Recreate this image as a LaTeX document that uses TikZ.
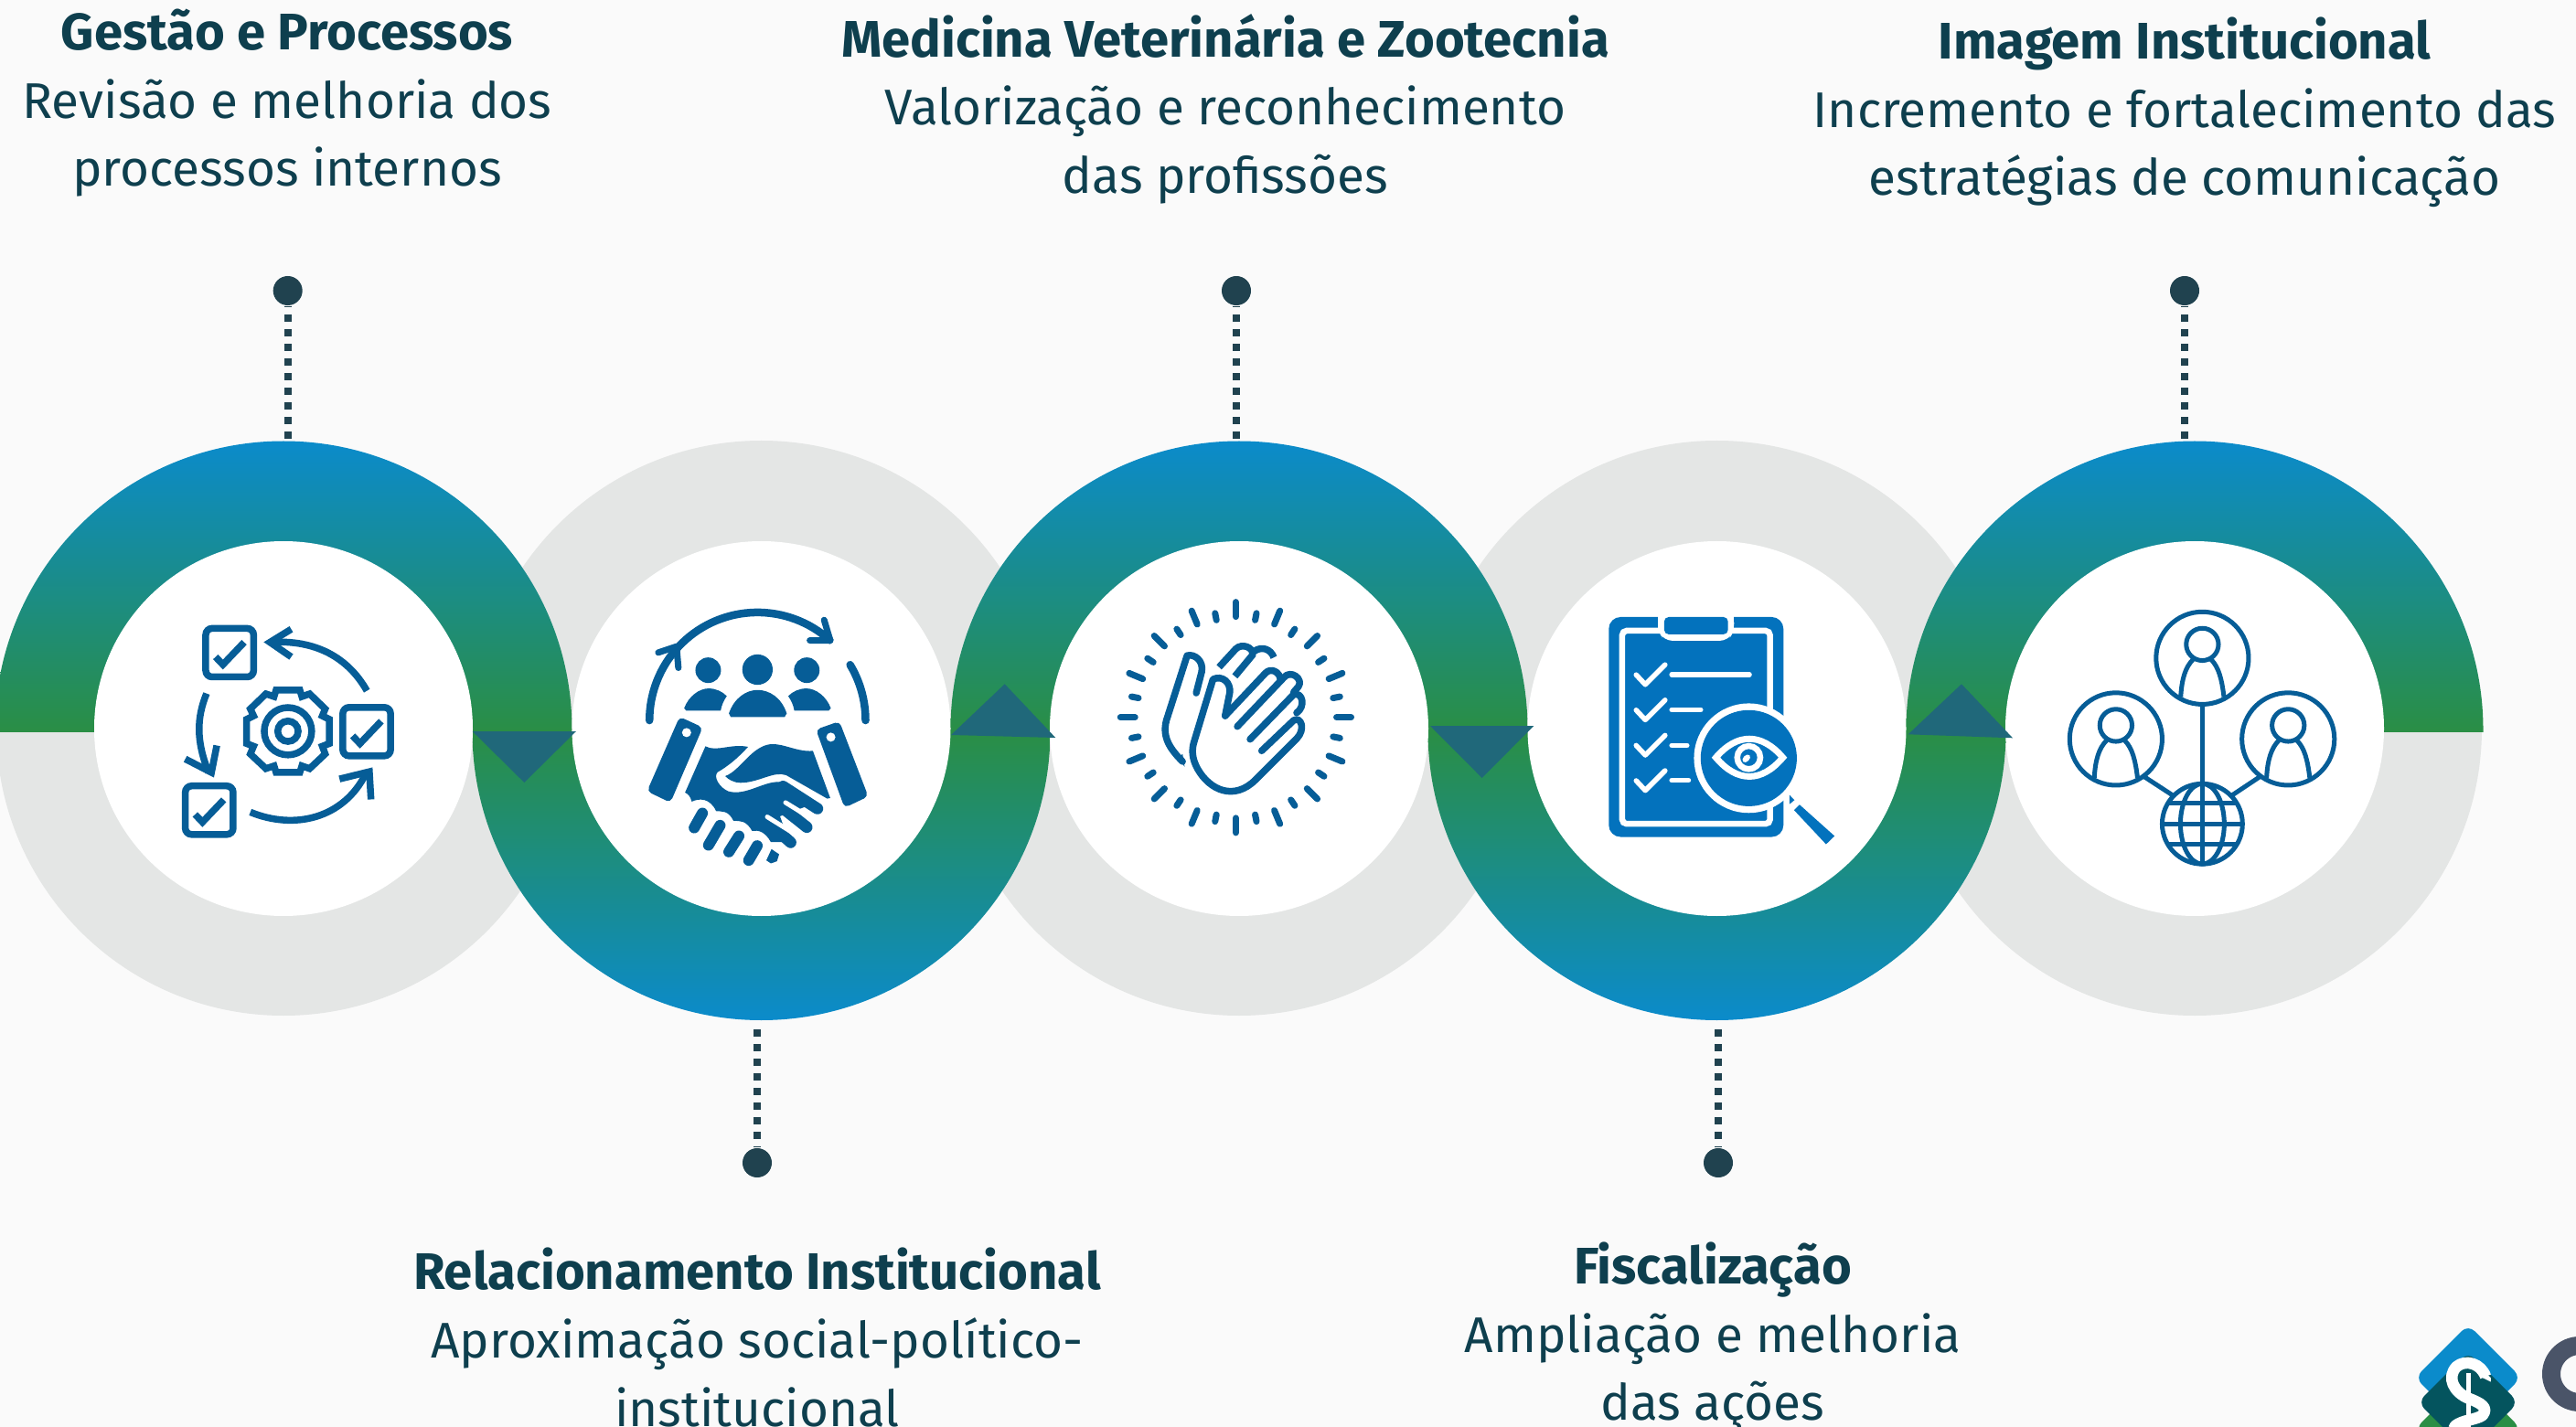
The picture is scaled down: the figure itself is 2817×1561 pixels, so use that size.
\documentclass[tikz,border=0pt]{standalone}
\usepackage{fontspec}
\setmainfont{Fira Sans}
\definecolor{bgc}{HTML}{FAFAFA}
\definecolor{rblue}{HTML}{0B8BCB}
\definecolor{rgreen}{HTML}{2A8E45}
\definecolor{rgray}{HTML}{E4E6E5}
\definecolor{tric}{HTML}{20687A}
\definecolor{dotc}{HTML}{20424F}
\definecolor{txtc}{HTML}{0E3F4E}
\definecolor{iconc}{HTML}{065D97}
\definecolor{clipc}{HTML}{0372BD}
\definecolor{ldark}{HTML}{04545E}
\definecolor{lgrey}{HTML}{4A5468}
\newcommand{\ttl}[1]{{\fontsize{16}{21.2}\selectfont\bfseries #1}}
\tikzset{
  label/.style={font=\fontsize{15.6}{21.2}\selectfont,text=txtc,align=center,inner sep=0pt},
  dotn/.style={circle,fill=dotc,minimum size=0.32cm,inner sep=0pt},
  dotline/.style={draw=dotc,line width=0.08cm,dash pattern=on 0.08cm off 0.08cm,dash phase=0.064cm},
  tri/.style={fill=tric},
  ic/.style={draw=iconc,line width=#1,line join=miter},
  icr/.style={draw=iconc,line width=#1,line cap=round,line join=round},
  wl/.style={draw=white,line width=#1,line cap=round,line join=round}
}
\begin{document}
\begin{tikzpicture}[x=0.01cm,y=-0.01cm]
\useasboundingbox (0,0) rectangle (2817,1561);
\clip (0,0) rectangle (2817,1561);
\fill[bgc] (0,0) rectangle (2817,1561);
% grey halves
\foreach \cx in {310,1355,2400}{
  \begin{scope}\clip (\cx,797) circle[radius=314];
  \fill[rgray] (\cx-320,799) rectangle (\cx+320,1115);\end{scope}}
\foreach \cx in {832.5,1877.5}{
  \begin{scope}\clip (\cx,797) circle[radius=315];
  \fill[rgray] (\cx-320,480) rectangle (\cx+320,801);\end{scope}}
% coloured halves
\foreach \cx in {310,1355,2400}{
  \begin{scope}\clip (\cx,798) circle[radius=315.5];
  \shade[top color=rblue,bottom color=rgreen] (\cx-320,482) rectangle (\cx+320,800);\end{scope}}
\foreach \cx in {832.5,1877.5}{
  \begin{scope}\clip (\cx,800) circle[radius=316];
  \shade[top color=rgreen,bottom color=rblue] (\cx-320,800) rectangle (\cx+320,1116);\end{scope}}
% white discs
\foreach \cx in {310,832.5,1355,1877.5,2400}
  \fill[white] (\cx,797) ellipse [x radius=207,y radius=205];
% triangles
\fill[tri] (516.7,800) -- (630,800) -- (573.3,856) -- cycle;
\fill[tri] (1040,804) -- (1154.3,807) -- (1098.7,748.3) -- cycle;
\fill[tri] (1564,794) -- (1677.3,794) -- (1620.7,851) -- cycle;
\fill[tri] (2086.7,803.3) -- (2201,807.3) -- (2145,748.3) -- cycle;
% connectors
\coordinate (r1) at (314.7,483);
\coordinate (r2) at (828,1122);
\coordinate (r3) at (1352,483);
\coordinate (r4) at (1879,1122);
\coordinate (r5) at (2389,483);
\node[dotn] (d1) at (314.7,318) {};
\node[dotn] (d2) at (828,1272) {};
\node[dotn] (d3) at (1352,318) {};
\node[dotn] (d4) at (1879,1272) {};
\node[dotn] (d5) at (2389,318) {};
\foreach \i in {1,...,5} \draw[dotline] (d\i) -- (r\i);
% texts
\node[label] (t1) at (314,113) {\ttl{Gestão e Processos}\\Revisão e melhoria dos\\processos internos};
\node[label] (t3) at (1340,119) {\ttl{Medicina Veterinária e Zootecnia}\\Valorização e reconhecimento\\das profissões};
\node[label] (t5) at (2389,123) {\ttl{Imagem Institucional}\\Incremento e fortalecimento das\\estratégias de comunicação};
\node[label] (t2) at (828,1463) {\ttl{Relacionamento Institucional}\\Aproximação social-político-\\institucional};
\node[label] (t4) at (1873,1463) {\ttl{Fiscalização}\\Ampliação e melhoria\\das ações};
% ICON 1
\begin{scope}[shift={(0,470)},x=0.004464cm,y=-0.004209cm]
\foreach \dx/\dy in {0/0,335/205,-50/409}{
  \begin{scope}[shift={(\dx,\dy)}]
  \draw[ic=0.075cm,rounded corners=0.07cm] (503,516) rectangle (620,642);
  \draw[ic=0.075cm] (527,590) -- (545,610) -- (597,552);
  \end{scope}}
\draw[ic=0.075cm] (897,678) .. controls (850,590) and (770,545) .. (662,552);
\draw[ic=0.075cm] (712,518) -- (660,552) -- (712,590);
\draw[ic=0.075cm] (505,685) .. controls (480,750) and (480,810) .. (510,890);
\draw[ic=0.075cm] (453,855) -- (517,890) -- (530,820);
\draw[ic=0.075cm] (612,993) .. controls (720,1040) and (840,1010) .. (895,892);
\draw[ic=0.075cm] (830,907) -- (903,888) -- (907,960);
\draw[ic=0.075cm] (675,676) -- (733,676) -- (738,693) -- (757,686) -- (795,725) -- (788,743) -- (805,752) -- (805,815) -- (788,822) -- (795,842) -- (757,880) -- (738,873) -- (733,890) -- (675,890) -- (670,873) -- (650,880) -- (612,842) -- (620,822) -- (603,815) -- (603,752) -- (620,743) -- (612,725) -- (650,686) -- (670,693) -- cycle;
\draw[ic=0.075cm] (704,783) ellipse [x radius=58,y radius=61.5];
\draw[ic=0.075cm] (704,783) ellipse [x radius=25,y radius=26.5];
\end{scope}
% ICON 2
\begin{scope}[shift={(640,620)},x=0.003333cm,y=-0.003333cm]
\draw[icr=0.085cm] plot[domain=180:48,samples=50] ({566+355*cos(\x)},{505-355*sin(\x)});
\draw[icr=0.085cm] plot[domain=31:0,samples=20] ({566+355*cos(\x)},{505-355*sin(\x)});
\draw[icr=0.07cm] (240,282) -- (300,262) -- (306,332);
\draw[icr=0.07cm] (785,175) -- (805,242) -- (738,242);
\fill[iconc] (404,340) circle[radius=42] (566,338) circle[radius=50] (728,340) circle[radius=42];
\fill[iconc] (472,482) .. controls (490,430) and (530,405) .. (566,405) .. controls (605,405) and (645,430) .. (662,482) -- (655,494) -- (478,494) -- cycle;
\fill[iconc] (325,465) .. controls (340,425) and (375,400) .. (405,400) .. controls (430,400) and (450,410) .. (465,425) .. controls (455,440) and (448,455) .. (445,473) -- (332,473) -- cycle;
\fill[iconc] (807,465) .. controls (792,425) and (757,400) .. (727,400) .. controls (702,400) and (682,410) .. (667,425) .. controls (677,440) and (684,455) .. (687,473) -- (800,473) -- cycle;
\fill[iconc,rounded corners=0.05cm] (310,493) -- (386,528) -- (280,775) -- (203,738) -- cycle;
\fill[iconc,rounded corners=0.05cm] (758,535) -- (835,508) -- (930,755) -- (852,792) -- cycle;
\fill[white] (333,545) circle[radius=15] (807,560) circle[radius=15];
% right hand top
\fill[iconc] (460,688) .. controls (510,670) and (545,590) .. (610,583) .. controls (650,580) and (700,610) .. (748,605) -- (805,760) -- (795,762) -- (660,685) .. controls (620,670) and (570,710) .. (510,710) .. controls (490,710) and (470,700) .. (460,688) -- cycle;
% left hand
\fill[iconc] (395,590) .. controls (430,610) and (480,580) .. (535,592) .. controls (500,630) and (470,655) .. (435,675) .. controls (420,690) and (440,725) .. (470,738) .. controls (530,755) and (590,700) .. (645,708) -- (760,775) -- (640,820) -- (670,905) -- (610,905) .. controls (590,870) and (570,865) .. (548,868) .. controls (530,835) and (510,835) .. (487,835) .. controls (470,800) and (450,805) .. (430,803) .. controls (410,760) and (375,760) .. (350,772) .. controls (345,755) and (340,748) .. (328,742) -- cycle;
\draw[icr=0.125cm] (650,722) -- (763,795);
\draw[icr=0.125cm] (620,770) -- (728,856);
\draw[icr=0.125cm] (590,830) -- (675,906);
\draw[wl=0.05cm] (658,775) -- (728,818);
\draw[wl=0.05cm] (598,822) -- (688,878);
\draw[icr=0.12cm] (385,810) -- (358,858);
\draw[icr=0.12cm] (443,850) -- (405,915);
\draw[icr=0.12cm] (505,885) -- (472,937);
\draw[icr=0.12cm] (565,917) -- (537,965);
\fill[iconc] (612,928) -- (637,945) -- (630,968) -- (610,975) -- (595,965) -- cycle;
\end{scope}
% ICON 3
\begin{scope}[shift={(1180,620)},x=0.003333cm,y=-0.003333cm]
\foreach \i in {0,...,31}{
  \pgfmathsetmacro\ang{\i*11.25}
  \ifodd\i
    \draw[icr=0.07cm] ({515+326*cos(\ang)},{495-326*sin(\ang)}) -- ({515+349*cos(\ang)},{495-349*sin(\ang)});
  \else
    \draw[icr=0.07cm] ({515+331*cos(\ang)},{495-331*sin(\ang)}) -- ({515+379*cos(\ang)},{495-379*sin(\ang)});
  \fi}
\draw[icr=0.075cm] (385,415) -- (403,345) .. controls (410,310) and (380,285) .. (355,292) -- (287,505) .. controls (272,560) and (300,600) .. (340,640);
\fill[iconc] (328,628) -- (347,658) -- (340,615) -- cycle;
\draw[icr=0.075cm] (480,490) -- (612,350) .. controls (630,330) and (660,345) .. (662,372);
\draw[icr=0.075cm] (520,525) -- (672,365) .. controls (695,335) and (740,370) .. (720,395) -- (705,412);
\draw[icr=0.075cm] (562,567) -- (705,420) .. controls (735,410) and (745,460) .. (715,480);
\draw[icr=0.075cm] (600,605) -- (705,505) .. controls (730,490) and (745,535) .. (715,565) -- (580,700) .. controls (510,770) and (430,735) .. (390,665) .. controls (370,630) and (370,600) .. (378,575) -- (440,370) .. controls (470,355) and (500,380) .. (495,415) -- (480,490);
\draw[ic=0.075cm] (460,330) -- (515,270) .. controls (535,250) and (575,265) .. (570,290) -- (512,360);
\draw[ic=0.075cm] (575,278) .. controls (600,260) and (630,270) .. (640,298);
\end{scope}
% ICON 4
\begin{scope}[shift={(1720,640)},x=0.003333cm,y=-0.003333cm]
\fill[clipc,rounded corners=0.13cm] (118,105) rectangle (692,828);
\draw[white,line width=0.065cm,rounded corners=0.05cm] (162,150) rectangle (648,785);
\fill[white] (280,100) rectangle (530,150);
\fill[white,rounded corners=0.09cm] (280,100) -- (280,150) -- (300,183) -- (510,183) -- (530,150) -- (530,100) -- cycle;
\fill[clipc,rounded corners=0.05cm] (300,105) -- (300,162) -- (510,162) -- (510,105) -- cycle;
\foreach \dy in {0,116,232,348}
  \draw[wl=0.055cm] (208,295+\dy) -- (238,327+\dy) -- (303,262+\dy);
\draw[wl=0.055cm] (325,294) -- (580,294);
\draw[wl=0.055cm] (325,410) -- (420,410);
\draw[wl=0.055cm] (325,527) -- (375,527);
\draw[wl=0.055cm] (325,642) -- (380,642);
\fill[white] (578,569) circle[radius=180];
\fill[clipc] (578,569) circle[radius=158];
\draw[white,line width=0.07cm] (470,567) .. controls (540,485) and (620,485) .. (690,567) .. controls (620,650) and (540,650) .. (470,567) -- cycle;
\draw[white,line width=0.065cm] (578,567) circle[radius=38];
\fill[white,rotate around={45:(570,570)}] (570,570) ellipse [x radius=15,y radius=10];
\fill[clipc] (745,722) -- (860,825) -- (832,852) -- (727,740) -- cycle;
\fill[clipc] (712,690) -- (728,707) -- (712,720) -- cycle;
\end{scope}
% ICON 5
\begin{scope}[shift={(2230,640)},x=0.003333cm,y=-0.003333cm]
\foreach \dx/\dy in {0/0,-284/266,282/266}{
  \begin{scope}[shift={(\dx,\dy)}]
  \draw[ic=0.05cm] (536,240) circle[radius=152];
  \draw[ic=0.05cm] (536,195) circle[radius=53];
  \draw[ic=0.05cm] (465,368) .. controls (468,310) and (480,270) .. (505,245);
  \draw[ic=0.05cm] (607,368) .. controls (600,310) and (590,270) .. (565,245);
  \end{scope}}
\draw[ic=0.05cm] (536,785) circle[radius=132];
\draw[ic=0.05cm] (536,395) -- (536,915);
\draw[ic=0.05cm] (345,630) -- (437,690);
\draw[ic=0.05cm] (725,630) -- (635,690);
\draw[ic=0.05cm] (425,718) -- (648,718);
\draw[ic=0.05cm] (405,785) -- (667,785);
\draw[ic=0.05cm] (425,852) -- (648,852);
\draw[ic=0.05cm] (536,785) ellipse [x radius=72,y radius=132];
\end{scope}
% LOGO
\fill[rblue,rounded corners=0.1cm] (2699,1449) -- (2757,1507) -- (2699,1565) -- (2641,1507) -- cycle;
\fill[rgreen,rounded corners=0.1cm] (2699,1505) -- (2757,1563) -- (2699,1621) -- (2641,1563) -- cycle;
\fill[ldark,rounded corners=0.1cm] (2699,1479) -- (2754,1534) -- (2699,1589) -- (2644,1534) -- cycle;
\begin{scope}[shift={(2600,1420)},x=0.003333cm,y=-0.003333cm]
\draw[wl=0.125cm,line cap=butt] (355,258) .. controls (340,215) and (290,200) .. (260,225) .. controls (225,260) and (250,310) .. (300,330) .. controls (340,345) and (365,360) .. (345,385) .. controls (325,400) and (280,400) .. (255,420) -- (250,430);
\fill[white] (340,230) -- (372,262) -- (372,275) -- (345,262) -- cycle;
\fill[white] (290,245) rectangle (306,430);
\end{scope}
\draw[lgrey,line width=0.2cm] (2821,1503) circle[radius=31];
\end{tikzpicture}
\end{document}
